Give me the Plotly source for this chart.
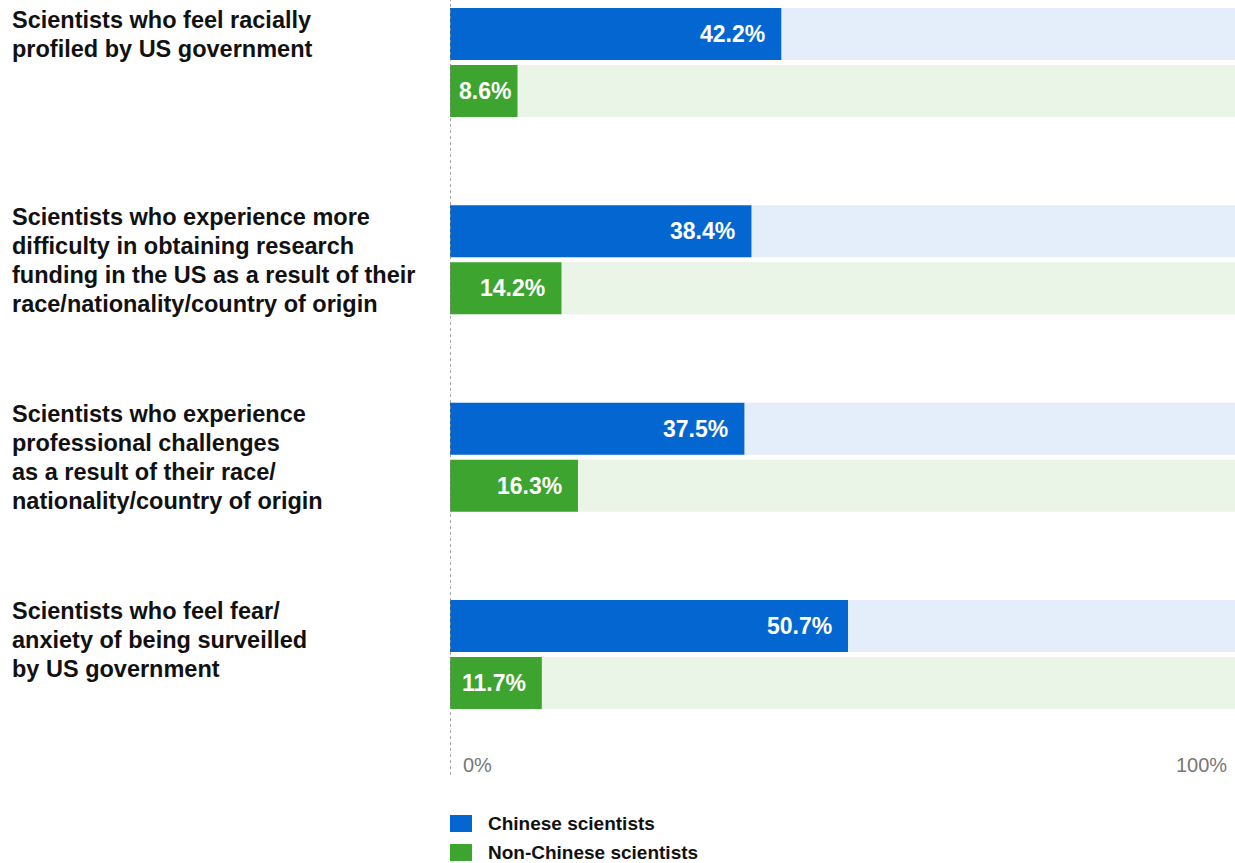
import plotly.graph_objects as go

# ---- data ----
categories = [
    "Scientists who feel racially profiled by US government",
    "Scientists who experience more difficulty in obtaining research funding in the US as a result of their race/nationality/country of origin",
    "Scientists who experience professional challenges as a result of their race/nationality/country of origin",
    "Scientists who feel fear/anxiety of being surveilled by US government",
]
category_lines = [
    ["Scientists who feel racially", "profiled by US government"],
    ["Scientists who experience more", "difficulty in obtaining research",
     "funding in the US as a result of their", "race/nationality/country of origin"],
    ["Scientists who experience", "professional challenges",
     "as a result of their race/", "nationality/country of origin"],
    ["Scientists who feel fear/", "anxiety of being surveilled", "by US government"],
]
series_names = ["Chinese scientists", "Non-Chinese scientists"]
chinese = [42.2, 38.4, 37.5, 50.7]
non_chinese = [8.6, 14.2, 16.3, 11.7]
axis_tick_labels = ["0%", "100%"]
full_scale = [100, 100, 100, 100]

# ---- style ----
BLUE = "#0466D0"
GREEN = "#3DA42F"
BLUE_BG = "#E4EEFA"
GREEN_BG = "#EAF4E7"
FONT = "Liberation Sans, Arial, Helvetica, sans-serif"

W, H = 1235, 863
ML, MR, MT, MB = 450, 0, 0, 88
plot_h = H - MT - MB
plot_w = W - ML - MR
group_px = 197.33          # pixel distance between groups
first_center_px = 62.5     # pixel of first group center
bar_px = 52
gap_px = 2.5

bw = bar_px / group_px
off_top = -(gap_px + bar_px) / group_px
off_bot = gap_px / group_px
y_top = -first_center_px / group_px
y_bot = (plot_h - first_center_px) / group_px

fig = go.Figure()

series = [(chinese, BLUE, BLUE_BG, off_top, series_names[0]),
          (non_chinese, GREEN, GREEN_BG, off_bot, series_names[1])]

for vals, col, bg, off, name in series:
    fig.add_trace(go.Bar(
        y=categories, x=full_scale, orientation="h", marker=dict(color=bg, line=dict(width=0)),
        width=bw, offset=off, hoverinfo="skip", showlegend=False,
    ))
for vals, col, bg, off, name in series:
    fig.add_trace(go.Bar(
        y=categories, x=vals, orientation="h", name=name,
        marker=dict(color=col, line=dict(width=0)),
        width=bw, offset=off, showlegend=False,
    ))

annotations = []
# value labels
for vals, col, bg, off, name in series:
    for cat, v in zip(categories, vals):
        annotations.append(dict(
            x=v, y=cat, xref="x", yref="y", text=f"{v:.1f}%",
            showarrow=False, xanchor="right", yanchor="middle",
            xshift=-14 if v >= 10 else -5,
            yshift=-(off + bw / 2) * group_px,
            font=dict(family=FONT, size=23, color="white", weight="bold"),
        ))

# category labels (left, multi-line)
line_px = 29
for cat, lines in zip(categories, category_lines):
    for i, ln in enumerate(lines):
        annotations.append(dict(
            x=(10 - ML) / plot_w, y=cat, xref="paper", yref="y", text=ln,
            showarrow=False, xanchor="left", yanchor="middle",
            yshift=43 - i * line_px,
            font=dict(family=FONT, size=23.5, color="#111111", weight="bold"),
        ))

# axis end labels
annotations.append(dict(x=0, y=(plot_h - 765) / plot_h, xref="x", yref="paper",
                        text=axis_tick_labels[0], showarrow=False, xanchor="left",
                        yanchor="middle", xshift=11,
                        font=dict(family=FONT, size=20, color="#777777")))
annotations.append(dict(x=100, y=(plot_h - 765) / plot_h, xref="x", yref="paper",
                        text=axis_tick_labels[1], showarrow=False, xanchor="right",
                        yanchor="middle", xshift=-6,
                        font=dict(family=FONT, size=20, color="#777777")))

shapes = [dict(type="line", xref="x", yref="paper", x0=0, x1=0, y0=0, y1=1,
               line=dict(color="#8a8a8a", width=1.5, dash="dot"), layer="above")]

# custom legend
leg_rows_px = [823.5, 852.5]
for (vals, col, bg, off, name), ypx in zip(series, leg_rows_px):
    shapes.append(dict(type="rect", xref="paper", yref="paper",
                       x0=0, x1=22 / plot_w,
                       y0=(plot_h - (ypx - 8.5)) / plot_h, y1=(plot_h - (ypx + 8.5)) / plot_h,
                       fillcolor=col, line=dict(width=0)))
    annotations.append(dict(x=36 / plot_w, y=(plot_h - ypx) / plot_h, xref="paper", yref="paper",
                            text=name, showarrow=False, xanchor="left", yanchor="middle",
                            font=dict(family=FONT, size=19, color="#111111", weight="bold")))

fig.update_layout(
    width=W, height=H,
    margin=dict(l=ML, r=MR, t=MT, b=MB, pad=0),
    barmode="overlay",
    paper_bgcolor="white", plot_bgcolor="white",
    xaxis=dict(range=[0, 100], showgrid=False, zeroline=False, showticklabels=False,
               showline=False, fixedrange=True),
    yaxis=dict(type="category", categoryorder="array", categoryarray=categories,
               range=[y_bot, y_top], showgrid=False, zeroline=False,
               showticklabels=False, showline=False, fixedrange=True),
    annotations=annotations, shapes=shapes,
    showlegend=False,
)

fig.write_html(
    "out.html",
    config={"displayModeBar": False},
    post_script="document.body.style.margin='0';document.body.style.overflow='hidden';",
)
